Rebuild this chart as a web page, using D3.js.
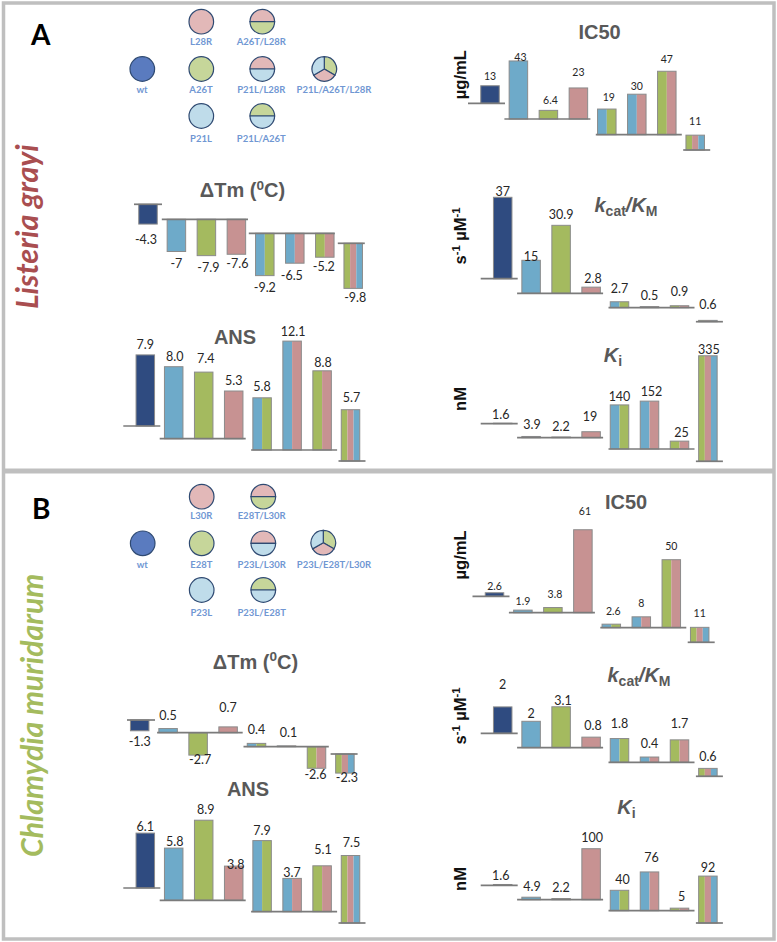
<!DOCTYPE html>
<html>
<head>
<meta charset="utf-8">
<style>
html,body{margin:0;padding:0;background:#fff}
svg{display:block}
</style>
<script src="https://cdn.jsdelivr.net/npm/d3@7/dist/d3.min.js"></script>
</head>
<body>
<svg id="c" width="777" height="942"></svg>
<script>
// ---------- DATA ----------
const variantsA = ["wt","P21L","A26T","L28R","P21L/A26T","P21L/L28R","A26T/L28R","P21L/A26T/L28R"];
const variantsB = ["wt","P23L","E28T","L30R","P23L/E28T","P23L/L30R","E28T/L30R","P23L/E28T/L30R"];
const groupOf   = [0,1,1,1,2,2,2,3];
const barParts  = [["wt"],["blue"],["green"],["pink"],["blue","green"],["blue","pink"],["green","pink"],["green","pink","blue"]];

const dTmA  = [-4.3,-7,-7.9,-7.6,-9.2,-6.5,-5.2,-9.8];
const ansA  = [7.9,8.0,7.4,5.3,5.8,12.1,8.8,5.7];
const ic50A = [13,43,6.4,23,19,30,47,11];
const kcatA = [37,15,30.9,2.8,2.7,0.5,0.9,0.6];
const kiA   = [1.6,3.9,2.2,19,140,152,25,335];

const dTmB  = [-1.3,0.5,-2.7,0.7,0.4,0.1,-2.6,-2.3];
const ansB  = [6.1,5.8,8.9,3.8,7.9,3.7,5.1,7.5];
const ic50B = [2.6,1.9,3.8,61,2.6,8,50,11];
const kcatB = [2,2,3.1,0.8,1.8,0.4,1.7,0.6];
const kiB   = [1.6,4.9,2.2,100,40,76,5,92];

const ansLabelA = ["7.9","8.0","7.4","5.3","5.8","12.1","8.8","5.7"];
const ansLabelB = ["6.1","5.8","8.9","3.8","7.9","3.7","5.1","7.5"];

// legend glyph: colour parts per variant (top/bottom, or three sectors)
const legendParts = {
  0:["wtc"],1:["blue"],2:["green"],3:["pink"],
  4:["green","blue"],5:["pink","blue"],6:["pink","green"],7:["green","pink","blue"]
};

// ---------- STYLE / LAYOUT ----------
const barFill = {wt:"#2f4b80",blue:"#6eaac9",green:"#a4ba5f",pink:"#c79292"};
const glyphFill = {wtc:"#5a7bbf",blue:"#bfdcea",green:"#c6d69a",pink:"#e2b8b8"};
const sans = "'Liberation Sans',Arial,sans-serif", lato = "Lato,Calibri,sans-serif";
const step = 30, groupShift = -1.6, barW = 18.5;
const fsBig = 12.5, fsSmall = 10.5;

const extDefault = [[-22,15],[-14,12],[-11,15],[-12,15]];
const panels = [
 {v:dTmA,x0:148,k:4.6,base:[204.3,219.3,233.3,243.3],fs:fsBig,ext:[[-14,14],[-14.6,11.6],[-16,10],[-15.4,11.6]],
  dx:[-2,0,2,1,0,-3,-1,2],dy:[16,12,12,9,12,12,9,9]},
 {v:ansA,x0:145.3,k:9,base:[426,438.7,450,461],fs:fsBig,txt:ansLabelA,
  dx:[0,1,2,0,0,1,1,1],dy:[-10,-10,-13,-10,-11,-9,-8,-12]},
 {v:ic50A,x0:490,k:1.35,base:[103.3,119,134.7,150],fs:fsSmall,
  dx:[0,2,2,0,2,0,0,0],dy:[-9,-4,-10,-16,-12,-8,-12,-14]},
 {v:kcatA,x0:502.7,k:2.2,base:[278.7,293.3,307.7,321.7],fs:fsBig,
  dx:[0,0,0,2,0,0,0,0],dy:[-6,-4,-11,-9,-13,-11,-14,-16]},
 {v:kiA,x0:502.7,k:.315,base:[423.7,437.7,449,461.3],fs:fsBig,
  dx:[-2,1,0,-1,0,2,2,1],dy:[-9,-12,-10,-15,-8,-9,-9,-6]},
 {v:dTmB,x0:139.7,k:8.3,base:[720,732.7,746.7,754],fs:fsBig,ext:[[-12.7,15.3],[-11,14.6],[-13,12.3],[-14.3,12.7]],
  dx:[0,0,2,0,0,2,-1,2],dy:[11,-13,5,-19,-14,-13,6,5]},
 {v:ansB,x0:145.3,k:9,base:[888,900.3,911.7,923],fs:fsBig,txt:ansLabelB,
  dx:[0,1,2,2,0,0,1,1],dy:[-6,-6,-11,-1,-10,-6,-16,-13]},
 {v:ic50B,x0:494.5,k:1.36,base:[596.3,612.7,627.7,642.3],fs:fsSmall,
  dx:[0,0,2,2,2,0,0,0],dy:[-6,-9,-13,-18,-13,-13,-13,-14]},
 {v:kcatB,x0:502.7,k:13.2,base:[733.3,747.7,762.3,776.3],fs:fsBig,
  dx:[0,0,2,2,0,0,0,0],dy:[-22,-8,-6,-12,-15,-13,-16,-12]},
 {v:kiB,x0:502.7,k:.51,base:[885.3,899.7,910.7,923],fs:fsBig,
  dx:[-2,1,0,1,3,2,2,0],dy:[-9,-11,-11,-11,-11,-14,-12,-8]}
];

const svg = d3.select("#c");

// frame
svg.append("rect").attr("x",3.5).attr("y",3).attr("width",770.5).attr("height",936)
   .attr("fill","#fff").attr("stroke","#bfbfbf").attr("stroke-width",3.5);
svg.append("rect").attr("x",3).attr("y",468.5).attr("width",771).attr("height",5).attr("fill","#bfbfbf");

// ---------- BARS ----------
const pos = d3.scalePoint().domain(d3.range(8)).range([0,step*7]);
const sub = n => d3.scaleBand().domain(d3.range(n)).range([-barW/2,barW/2]);

panels.forEach(p => {
  const y = d3.scaleLinear().domain([0,1]).range([0,-p.k]);
  const cx = i => p.x0 + pos(i) + groupOf[i]*groupShift;
  const g = svg.append("g");
  const bars = g.selectAll("g.bar").data(p.v).join("g").attr("class","bar")
     .attr("transform",(d,i)=>`translate(${cx(i)},${p.base[groupOf[i]]})`);
  bars.each(function(d,i){
    const s = sub(barParts[i].length);
    const top = Math.min(0,y(d)), h = Math.abs(y(d));
    d3.select(this).selectAll("rect.seg").data(barParts[i]).join("rect").attr("class","seg")
      .attr("x",(c,j)=>s(j)).attr("width",s.bandwidth()).attr("y",top).attr("height",h)
      .attr("fill",c=>barFill[c]);
    d3.select(this).append("rect").attr("x",-barW/2).attr("width",barW).attr("y",top).attr("height",h)
      .attr("fill","none").attr("stroke","#8b8b8b").attr("stroke-width",1);
  });
  // staggered baselines
  const ext = p.ext || extDefault;
  g.selectAll("line.base").data(d3.range(4)).join("line").attr("class","base")
    .attr("x1",k=>cx(groupOf.indexOf(k))+ext[k][0])
    .attr("x2",k=>cx(groupOf.lastIndexOf(k))+ext[k][1])
    .attr("y1",k=>p.base[k]).attr("y2",k=>p.base[k])
    .attr("stroke","#7b7b7b").attr("stroke-width",1.7);
  // value labels
  g.selectAll("text.val").data(p.v).join("text").attr("class","val")
    .attr("x",(d,i)=>cx(i)+p.dx[i])
    .attr("y",(d,i)=>p.base[groupOf[i]]+y(d)+p.dy[i])
    .attr("dy","0.35em").attr("text-anchor","middle")
    .attr("font-family",lato).attr("font-size",p.fs).attr("fill","#262626")
    .text((d,i)=>p.txt?p.txt[i]:String(d));
});

// ---------- LEGEND GLYPHS ----------
const r = 12.3;
const arc = d3.arc().innerRadius(0).outerRadius(r);
function glyph(parent,i){
  const parts = legendParts[i], n = parts.length;
  const start = n===2 ? -Math.PI/2 : 0;
  const sweep = 2*Math.PI/n;
  parent.selectAll("path").data(parts).join("path")
    .attr("d",(c,j)=>arc({startAngle:start+j*sweep,endAngle:start+(j+1)*sweep}))
    .attr("fill",c=>glyphFill[c]).attr("stroke","#2f4a72").attr("stroke-width",1.2);
}
const legends = [
 {names:variantsA,cols:[142.3,201.3,262.3,324.3],rows:[21.7,69,116],triY:69,labRows:[41.3,90,138.7],labX:[142,201,261.3,334]},
 {names:variantsB,cols:[142.7,201.7,263.3,323.3],rows:[496.7,543.3,590],triY:542.7,labRows:[516,564.7,612.7],labX:[142.3,201.3,261.7,334]}
];
const cell = [[0,1],[1,2],[1,1],[1,0],[2,2],[2,1],[2,0],[3,1]];
legends.forEach(L=>{
  L.names.forEach((nm,i)=>{
    const [c,rw] = cell[i];
    const g = svg.append("g").attr("transform",`translate(${L.cols[c]},${i===7?L.triY:L.rows[rw]})`);
    glyph(g,i);
    svg.append("text").attr("x",L.labX[c]).attr("y",L.labRows[rw]).attr("dy","0.35em")
       .attr("text-anchor","middle").attr("font-family",lato).attr("font-weight",700)
       .attr("font-size",9.5).attr("fill","#7097d3").text(nm);
  });
});

// ---------- TITLES ----------
function rich(sel,parts){
  parts.forEach(([t,o])=>{
    const ts = sel.append("tspan").text(t);
    if(o==="sup") ts.attr("font-size","0.68em").attr("dy","-0.55em");
    else if(o==="afterSup") ts.attr("dy","0.37em");
    else if(o==="sub") ts.attr("font-size","0.7em").attr("dy","0.3em").attr("font-style","normal");
    else if(o==="it") ts.attr("font-style","italic");
    else if(o==="itAfter") ts.attr("font-style","italic").attr("dy","-0.21em");
  });
}
const tm = [["ΔTm ("],["0","sup"],["C)","afterSup"]];
const kc = [["k","it"],["cat","sub"],["/K","itAfter"],["M","sub"]];
const ki = [["K","it"],["i","sub"]];
const titles = [
 [242.5,190,tm],[235,336.7,[["ANS"]]],[599.5,31.7,[["IC50"]]],[626,205,kc],[613,355,ki],
 [255.5,661.7,tm],[248,789.3,[["ANS"]]],[626,502.3,[["IC50"]]],[639,675,kc],[626.5,807,ki]
];
titles.forEach(([x,y,parts])=>{
  const t = svg.append("text").attr("x",x).attr("y",y).attr("dy","0.35em").attr("text-anchor","middle")
    .attr("font-family",sans).attr("font-weight",700).attr("font-size",20).attr("fill","#595959");
  rich(t,parts);
});

// ---------- UNIT LABELS ----------
const mg = [["µg/mL"]], sm = [["s"],["-1","sup"],[" µM","afterSup"],["-1","sup"]], nm = [["nM"]];
[[74.7,mg],[236,sm],[399,nm],[555,mg],[716,sm],[879,nm]].forEach(([y,parts])=>{
  const t = svg.append("text").attr("transform",`translate(466,${y}) rotate(-90)`).attr("text-anchor","middle")
    .attr("font-family",sans).attr("font-weight",700).attr("font-size",16.5).attr("fill","#111");
  rich(t,parts);
});

// ---------- PANEL LETTERS / SPECIES ----------
svg.append("text").attr("x",31).attr("y",44.5).attr("font-family",lato).attr("font-weight",700)
   .attr("font-size",28).attr("fill","#000").text("A");
svg.append("text").attr("x",32).attr("y",518.5).attr("font-family",lato).attr("font-weight",700)
   .attr("font-size",28).attr("fill","#000").text("B");
svg.append("text").attr("transform","translate(38,309) rotate(-90)").attr("font-family",lato)
   .attr("font-weight",700).attr("font-style","italic").attr("font-size",30.5).attr("fill","#a94e50").text("Listeria grayi");
svg.append("text").attr("transform","translate(43,857) rotate(-90)").attr("font-family",lato)
   .attr("font-weight",700).attr("font-style","italic").attr("font-size",30.2).attr("fill","#a4bb5e").text("Chlamydia muridarum");
</script>
</body>
</html>
